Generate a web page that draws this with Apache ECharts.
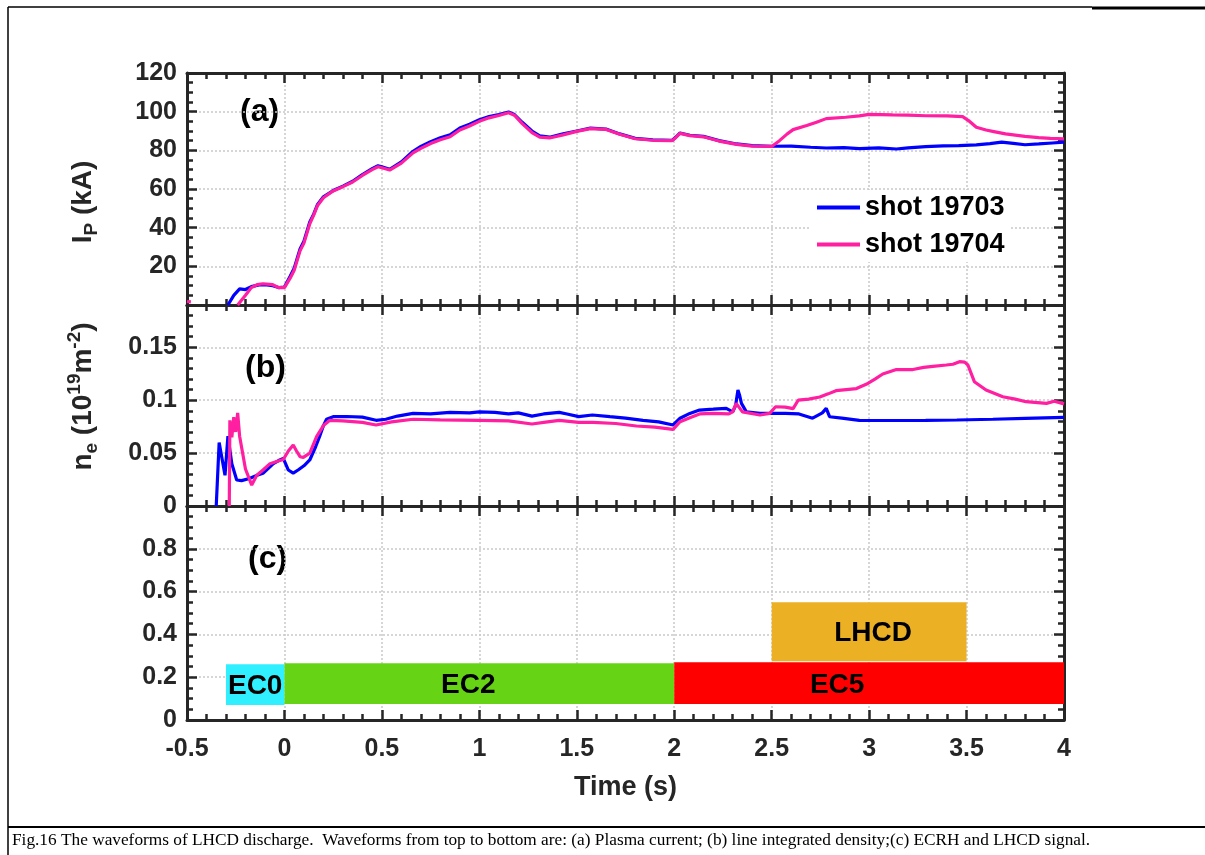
<!DOCTYPE html>
<html>
<head>
<meta charset="utf-8">
<script src="https://cdn.jsdelivr.net/npm/echarts@6/dist/echarts.min.js"></script>
<style>
html,body{margin:0;padding:0;background:#fff;}
#chart{width:1205px;height:855px;}
</style>
</head>
<body>
<div id="chart"></div>
<script>
// ---------- DATA ----------
const xTicks = [-0.5, 0, 0.5, 1, 1.5, 2, 2.5, 3, 3.5, 4];
const seriesNames = ['shot 19703', 'shot 19704'];

// Panel (a): plasma current Ip (kA)
const ipTime19703 = [-0.29,-0.26,-0.23,-0.2,-0.17,-0.13,-0.1,-0.06,-0.03,0.0,0.03,0.05,0.08,0.1,0.13,0.15,0.17,0.2,0.25,0.3,0.35,0.4,0.45,0.48,0.5,0.54,0.6,0.66,0.7,0.75,0.8,0.85,0.9,0.95,1.0,1.05,1.1,1.15,1.18,1.22,1.27,1.31,1.36,1.43,1.5,1.57,1.65,1.72,1.8,1.89,1.99,2.01,2.03,2.08,2.15,2.23,2.32,2.4,2.5,2.6,2.7,2.78,2.87,2.95,3.05,3.14,3.2,3.29,3.38,3.46,3.55,3.62,3.68,3.74,3.8,3.87,3.94,4.0];
const ipValue19703 = [0,5,8.3,8.0,9.5,10.4,10.5,10,9,9.3,15,19,29,33,43,47,52,56,59.2,61.5,64,67.5,70.5,72,71.5,70.2,74,79.5,82,84.5,86.5,88,91.5,93.5,95.8,97.5,98.5,99.8,98.5,94.5,90,87.5,86.8,88.5,90,91.5,91,88.5,86.2,85.4,85.2,87,89,87.8,87.2,85,83.3,82.4,82.1,82.2,81.6,81.2,81.4,80.9,81.3,80.7,81.3,81.9,82.3,82.4,82.8,83.5,84.2,83.6,82.9,83.3,83.8,84.2];

const ipTime19704 = [-0.5,-0.48,-0.47,-0.24,-0.2,-0.17,-0.14,-0.11,-0.06,-0.03,0.0,0.03,0.05,0.08,0.1,0.13,0.15,0.17,0.2,0.25,0.3,0.35,0.4,0.45,0.48,0.5,0.54,0.6,0.66,0.7,0.75,0.8,0.85,0.9,0.95,1.0,1.05,1.1,1.15,1.18,1.22,1.27,1.31,1.36,1.43,1.5,1.57,1.65,1.72,1.8,1.89,1.99,2.01,2.03,2.08,2.15,2.23,2.32,2.4,2.5,2.54,2.58,2.61,2.68,2.73,2.78,2.88,2.95,3.0,3.12,3.2,3.29,3.4,3.48,3.51,3.55,3.6,3.64,3.7,3.8,3.87,3.93,4.0];
const ipValue19704 = [1.8,1.6,null,0,5,9,10.5,11,10.5,9,9,14,18,28,32,42,46.5,51.5,55.5,59,61.2,63.6,67,70,71.5,71,69.8,73.4,78.7,81,83.5,85.5,87,90.5,92.6,95,96.8,98,99.4,98.2,93.8,89.2,86.8,86.4,88,89.8,91.2,90.8,88.3,86,85.2,85,86.8,88.8,87.6,87,84.8,83.1,82.2,82,85,88.5,90.7,92.8,94.5,96.4,97.1,97.8,98.6,98.3,98.2,97.9,97.8,97.4,95.4,91.9,90.5,89.7,88.5,87.2,86.6,86.2,85.9];

// Panel (b): line integrated density ne (10^19 m^-2)
const neTime19703 = [-0.35,-0.335,-0.305,-0.29,-0.27,-0.245,-0.22,-0.18,-0.14,-0.11,-0.08,-0.057,-0.03,-0.006,0.02,0.045,0.07,0.1,0.13,0.16,0.18,0.2,0.216,0.25,0.32,0.4,0.47,0.52,0.58,0.66,0.75,0.85,0.95,1.0,1.08,1.15,1.2,1.27,1.33,1.41,1.45,1.51,1.58,1.67,1.75,1.84,1.92,1.994,2.03,2.08,2.13,2.2,2.267,2.3,2.315,2.327,2.335,2.345,2.37,2.44,2.507,2.57,2.64,2.71,2.76,2.78,2.797,2.86,2.95,3.1,3.29,3.45,3.635,3.8,4.0];
const neValue19703 = [0,0.06,0.029,0.066,0.04,0.0246,0.024,0.026,0.029,0.031,0.036,0.040,0.043,0.045,0.034,0.031,0.034,0.038,0.0435,0.056,0.0655,0.076,0.082,0.0844,0.0846,0.084,0.081,0.082,0.085,0.0876,0.087,0.0885,0.088,0.089,0.0885,0.087,0.088,0.085,0.087,0.0885,0.087,0.0845,0.086,0.0844,0.083,0.081,0.0795,0.0766,0.083,0.0875,0.0907,0.0915,0.0923,0.089,0.095,0.1096,0.105,0.097,0.089,0.0876,0.0876,0.0875,0.087,0.083,0.088,0.0923,0.0844,0.083,0.081,0.0808,0.081,0.0813,0.082,0.0828,0.0838];

const neTime19704 = [-0.283,-0.28,-0.27,-0.26,-0.25,-0.24,-0.23,-0.2,-0.168,-0.142,-0.11,-0.074,-0.04,-0.006,0.02,0.045,0.062,0.08,0.097,0.13,0.165,0.2,0.233,0.3,0.4,0.47,0.55,0.66,0.8,1.0,1.15,1.27,1.35,1.41,1.51,1.584,1.7,1.806,1.9,1.994,2.03,2.08,2.13,2.2,2.28,2.3,2.318,2.35,2.44,2.49,2.52,2.57,2.61,2.636,2.69,2.747,2.79,2.83,2.935,2.985,3.03,3.07,3.14,3.225,3.28,3.327,3.396,3.43,3.464,3.49,3.507,3.54,3.6,3.686,3.75,3.805,3.91,3.95,4.0];
const neValue19704 = [0,0.081,0.065,0.084,0.07,0.088,0.066,0.035,0.0198,0.029,0.034,0.040,0.042,0.044,0.052,0.0577,0.052,0.0466,0.046,0.05,0.0655,0.076,0.081,0.0805,0.079,0.0766,0.0795,0.082,0.0815,0.081,0.0805,0.0775,0.0795,0.081,0.079,0.079,0.078,0.0756,0.0745,0.0725,0.0797,0.0835,0.087,0.0875,0.087,0.089,0.097,0.089,0.086,0.0876,0.0938,0.0935,0.092,0.100,0.101,0.103,0.106,0.109,0.111,0.115,0.12,0.1248,0.129,0.129,0.131,0.132,0.1333,0.134,0.1364,0.136,0.1333,0.1175,0.1096,0.1033,0.101,0.0986,0.097,0.099,0.0965];

// Panel (c): ECRH and LHCD heating phases
const phaseNames = ['EC0', 'EC2', 'EC5', 'LHCD'];
const phaseStart = [-0.3, 0, 2, 2.5];
const phaseEnd   = [0, 2, 4, 3.5];
const phaseLow   = [0.07, 0.075, 0.075, 0.275];
const phaseHigh  = [0.26, 0.265, 0.27, 0.55];

// ---------- STYLE ----------
const FONT = '"Liberation Sans", Arial, Helvetica, sans-serif';
const AX = '#262626';
const blue = '#0000ff';
const pink = '#ff1fa0';
const phaseColors = {EC0: '#30f0ff', EC2: '#66d414', EC5: '#ff0000', LHCD: '#ebb024'};
const phaseLabelShift = {EC0: 0, EC2: -11, EC5: -32, LHCD: 4};

const zip = (t, v) => t.map((x, i) => [x, v[i]]);

const grids = [
  {left: 187, top: 73, width: 877, height: 232},
  {left: 187, top: 305, width: 877, height: 201},
  {left: 187, top: 506, width: 877, height: 214}
];

const tickStyle = {show: true, inside: true, length: 10, lineStyle: {color: AX, width: 2.5}};
const minorStyle = (n) => ({show: true, splitNumber: n, length: 6, lineStyle: {color: AX, width: 2.5}});
const lineAx = {show: true, lineStyle: {color: AX, width: 3}};
const gridLine = {show: true, lineStyle: {color: '#c9c9c9', width: 1.5, type: [2, 2]}};
const labelStyle = {color: AX, fontFamily: FONT, fontWeight: 'bold', fontSize: 25};

const xAxes = [];
for (let i = 0; i < 3; i++) {
  xAxes.push({
    type: 'value', gridIndex: i, position: 'bottom', min: -0.5, max: 4, interval: 0.5,
    axisLine: Object.assign({onZero: false}, lineAx), axisTick: tickStyle, minorTick: minorStyle(5),
    splitLine: gridLine,
    axisLabel: Object.assign({show: i === 2, margin: 17}, labelStyle),
    name: i === 2 ? 'Time (s)' : '', nameLocation: 'middle', nameGap: 54,
    nameTextStyle: {color: AX, fontFamily: FONT, fontWeight: 'bold', fontSize: 27}
  });
}
for (let i = 0; i < 3; i++) {
  xAxes.push({
    type: 'value', gridIndex: i, position: 'top', min: -0.5, max: 4, interval: 0.5,
    axisLine: Object.assign({onZero: false}, lineAx), axisTick: tickStyle, minorTick: minorStyle(5),
    splitLine: {show: false}, axisLabel: {show: false}
  });
}

const yCfg = [
  {min: 0, max: 120, interval: 20, minor: 4, showMin: false, showMax: true},
  {min: 0, max: 0.19, interval: 0.05, minor: 5, showMin: true, showMax: false},
  {min: 0, max: 1, interval: 0.2, minor: 4, showMin: true, showMax: false}
];
const richName = {
  m: {fontSize: 28, fontWeight: 'bold', fontFamily: FONT, color: AX, lineHeight: 36},
  s: {fontSize: 19, fontWeight: 'bold', fontFamily: FONT, color: AX, lineHeight: 19, verticalAlign: 'bottom'},
  p: {fontSize: 19, fontWeight: 'bold', fontFamily: FONT, color: AX, lineHeight: 19, verticalAlign: 'top'},
  w: {fontSize: 19, width: 26, lineHeight: 19},
  v: {fontSize: 19, width: 18, lineHeight: 19}
};
const yNames = ['{m|I}{s|P}{m| (kA)}{w| }', '{v| }{m|n}{s|e}{m| (10}{p|19}{m|m}{p|-2}{m|)}', ''];
const yAxes = [];
for (let i = 0; i < 3; i++) {
  const c = yCfg[i];
  yAxes.push({
    type: 'value', gridIndex: i, position: 'left', min: c.min, max: c.max, interval: c.interval,
    axisLine: Object.assign({onZero: false}, lineAx), axisTick: tickStyle, minorTick: minorStyle(c.minor),
    splitLine: gridLine,
    axisLabel: Object.assign({margin: 10, showMinLabel: c.showMin, showMaxLabel: c.showMax}, labelStyle),
    name: yNames[i], nameLocation: 'middle', nameRotate: 90, nameGap: 86,
    nameTextStyle: {rich: richName}
  });
}
for (let i = 0; i < 3; i++) {
  const c = yCfg[i];
  yAxes.push({
    type: 'value', gridIndex: i, position: 'right', min: c.min, max: c.max, interval: c.interval,
    axisLine: Object.assign({onZero: false}, lineAx), axisTick: tickStyle, minorTick: minorStyle(c.minor),
    splitLine: {show: false}, axisLabel: {show: false}
  });
}

const lineSeries = (name, xi, yi, data, color) => ({
  type: 'line', name: name, xAxisIndex: xi, yAxisIndex: yi, data: data,
  showSymbol: false, symbol: 'none', connectNulls: false,
  lineStyle: {color: color, width: 3.2}, itemStyle: {color: color}, z: 3
});

const phaseData = phaseNames.map((n, i) => [phaseStart[i], phaseEnd[i], phaseLow[i], phaseHigh[i], i]);

const option = {
  animation: false,
  backgroundColor: '#ffffff',
  grid: grids,
  xAxis: xAxes,
  yAxis: yAxes,
  legend: {
    data: seriesNames, orient: 'vertical', left: 811, top: 190, padding: [4, 6],
    backgroundColor: '#ffffff', icon: 'rect', itemWidth: 43, itemHeight: 4, itemGap: 10,
    textStyle: {color: '#000', fontFamily: FONT, fontWeight: 'bold', fontSize: 27}
  },
  series: [
    lineSeries(seriesNames[0], 0, 0, zip(ipTime19703, ipValue19703), blue),
    lineSeries(seriesNames[1], 0, 0, zip(ipTime19704, ipValue19704), pink),
    lineSeries(seriesNames[0], 1, 1, zip(neTime19703, neValue19703), blue),
    lineSeries(seriesNames[1], 1, 1, zip(neTime19704, neValue19704), pink),
    {
      type: 'custom', xAxisIndex: 2, yAxisIndex: 2, data: phaseData,
      encode: {x: [0, 1], y: [2, 3]}, z: 3,
      renderItem: function (params, api) {
        const p0 = api.coord([api.value(0), api.value(3)]);
        const p1 = api.coord([api.value(1), api.value(2)]);
        const name = phaseNames[api.value(4)];
        return {
          type: 'group',
          children: [
            {type: 'rect', shape: {x: p0[0], y: p0[1], width: p1[0] - p0[0], height: p1[1] - p0[1]},
             style: {fill: phaseColors[name]}},
            {type: 'text', style: {text: name, x: (p0[0] + p1[0]) / 2 + phaseLabelShift[name], y: (p0[1] + p1[1]) / 2 + 2,
              align: 'center', verticalAlign: 'middle', fill: '#000',
              font: 'bold 28px ' + FONT}}
          ]
        };
      }
    }
  ],
  graphic: [
    {type: 'text', left: 240, top: 96, style: {text: '(a)', fill: '#000', font: 'bold 32px ' + FONT}},
    {type: 'text', left: 245, top: 352, style: {text: '(b)', fill: '#000', font: 'bold 32px ' + FONT}},
    {type: 'text', left: 248, top: 543, style: {text: '(c)', fill: '#000', font: 'bold 32px ' + FONT}},
    {type: 'line', shape: {x1: 8, y1: 7, x2: 8, y2: 855}, style: {stroke: '#000', lineWidth: 1.5}},
    {type: 'line', shape: {x1: 8, y1: 7, x2: 1092, y2: 7}, style: {stroke: '#000', lineWidth: 1.5}},
    {type: 'line', shape: {x1: 1092, y1: 8, x2: 1205, y2: 8}, style: {stroke: '#000', lineWidth: 3}},
    {type: 'line', shape: {x1: 8, y1: 827, x2: 1205, y2: 827}, style: {stroke: '#000', lineWidth: 2}},
    {type: 'text', left: 12, top: 832, style: {
      text: 'Fig.16 The waveforms of LHCD discharge.  Waveforms from top to bottom are: (a) Plasma current; (b) line integrated density;(c) ECRH and LHCD signal.',
      fill: '#000', font: '17.3px "Liberation Serif", "Times New Roman", serif'}}
  ]
};

const chart = echarts.init(document.getElementById('chart'), null, {renderer: 'canvas'});
chart.setOption(option);
</script>
</body>
</html>
